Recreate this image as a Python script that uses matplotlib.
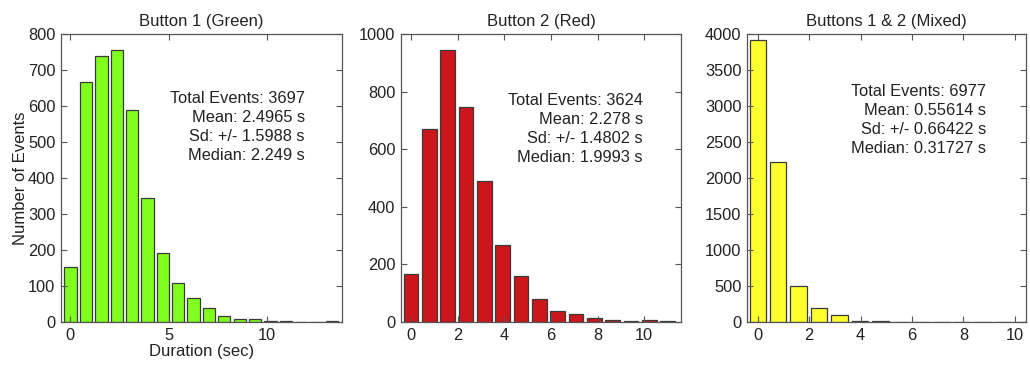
import numpy as np
import matplotlib
matplotlib.use('Agg')
import matplotlib.pyplot as plt

# Histogram counts per duration bin (sec)
green_counts = [153, 668, 740, 756, 588, 345, 191, 109, 68, 39, 16, 8, 8, 2, 4, 0, 1, 2]
red_counts = [165, 669, 945, 748, 488, 267, 161, 81, 37, 27, 14, 8, 2, 6, 5]
mixed_counts = [3911, 2227, 497, 195, 102, 20, 14, 4, 3, 0, 0, 0, 2, 2]

# first bin centre and bin width for each histogram
green_bins = (0.03, 0.78)
red_bins = (0.0, 0.786)
mixed_bins = (0.0, 0.795)

titles = ['Button 1 (Green)', 'Button 2 (Red)', 'Buttons 1 & 2 (Mixed)']
stats_text = [
    'Total Events: 3697\nMean: 2.4965 s\nSd: +/- 1.5988 s\nMedian: 2.249 s',
    'Total Events: 3624\nMean: 2.278 s\nSd: +/- 1.4802 s\nMedian: 1.9993 s',
    'Total Events: 6977\nMean: 0.55614 s\nSd: +/- 0.66422 s\nMedian: 0.31727 s',
]

plt.rcParams['font.family'] = ['Liberation Sans', 'DejaVu Sans']
plt.rcParams['font.size'] = 11.8

fig = plt.figure(figsize=(10.30, 3.67), dpi=100)

panels = [
    dict(counts=green_counts, bins=green_bins, color='#80ff1e',
         rect=[0.0592, 0.1226, 0.2728, 0.7847], xlim=(-0.46, 13.8), ylim=(0, 800),
         xticks=[0, 5, 10], yticks=range(0, 801, 100), text_pos=(0.868, 0.803)),
    dict(counts=red_counts, bins=red_bins, color='#cc161b',
         rect=[0.3893, 0.1226, 0.2718, 0.7847], xlim=(-0.43, 11.57), ylim=(0, 1000),
         xticks=[0, 2, 4, 6, 8, 10], yticks=range(0, 1001, 200), text_pos=(0.864, 0.795)),
    dict(counts=mixed_counts, bins=mixed_bins, color='#ffff2e',
         rect=[0.7252, 0.1226, 0.2709, 0.7847], xlim=(-0.42, 10.43), ylim=(0, 4000),
         xticks=[0, 2, 4, 6, 8, 10], yticks=range(0, 4001, 500), text_pos=(0.857, 0.826)),
]

for i, p in enumerate(panels):
    ax = fig.add_axes(p['rect'])
    start, width = p['bins']
    centers = start + width * np.arange(len(p['counts']))
    ax.bar(centers, p['counts'], width=width * 0.8, color=p['color'],
           edgecolor='#3a3a3a', linewidth=0.9)
    ax.set_xlim(*p['xlim'])
    ax.set_ylim(*p['ylim'])
    ax.set_xticks(p['xticks'])
    ax.set_yticks(list(p['yticks']))
    ax.tick_params(direction='in', top=True, right=True, length=4, width=0.8,
                   colors='#555555', labelcolor='#222222', pad=4)
    for s in ax.spines.values():
        s.set_color('#555555')
        s.set_linewidth(0.9)
    ax.set_title(titles[i], fontsize=12, pad=6, color='#222222')
    ax.text(p['text_pos'][0], p['text_pos'][1], stats_text[i], transform=ax.transAxes,
            ha='right', va='top', multialignment='right', linespacing=1.33,
            color='#222222')
    if i == 0:
        ax.set_ylabel('Number of Events', fontsize=12, color='#222222', labelpad=0)
        ax.set_xlabel('Duration (sec)', fontsize=12, color='#222222', labelpad=1)

fig.savefig('out.png', dpi=100)
